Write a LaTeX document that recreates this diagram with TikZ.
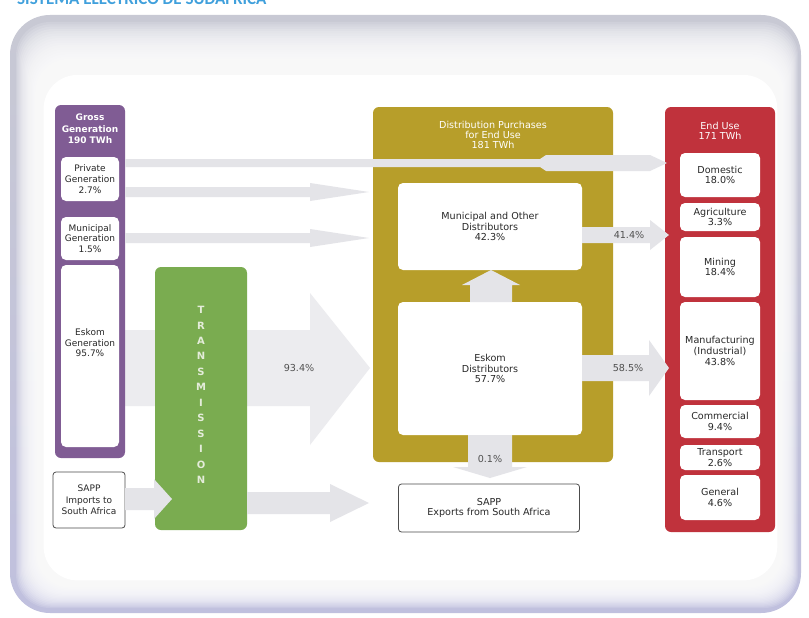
\documentclass[tikz,border=0pt]{standalone}
\usepackage{fontspec}
\setmainfont{DejaVu Sans}
\newfontfamily\titlefont{Carlito}
\definecolor{titleblue}{RGB}{64,160,220}
\definecolor{frametop}{RGB}{200,201,212}
\definecolor{framebot}{RGB}{192,192,222}
\definecolor{purplecol}{RGB}{128,92,148}
\definecolor{greencol}{RGB}{122,172,80}
\definecolor{yellowcol}{RGB}{183,158,42}
\definecolor{redcol}{RGB}{192,50,60}
\definecolor{arrowgray}{RGB}{228,228,232}
\definecolor{biggray}{RGB}{236,236,239}
\definecolor{txtgray}{RGB}{40,40,40}
\definecolor{lblgray}{RGB}{80,80,80}
\definecolor{translet}{RGB}{228,236,218}
\newcommand\boxfont{\fontsize{9.6}{10.8}\selectfont}
\newcommand\hdrfont{\fontsize{9.6}{10.2}\selectfont}
\begin{document}
\begin{tikzpicture}[x=1pt,y=-1pt,
  col/.style={rounded corners=6, inner sep=0pt},
  wbox/.style={fill=white, rounded corners=5, inner sep=0pt, align=center, font=\boxfont, text=txtgray},
  sbox/.style={fill=white, draw=black!70, line width=0.8pt, rounded corners=3, inner sep=0pt, align=center, font=\boxfont, text=txtgray},
  txt/.style={align=center, font=\boxfont, text=txtgray},
  hdr/.style={align=center, font=\hdrfont, text=white},
  lbl/.style={font=\boxfont, text=lblgray}]
\useasboundingbox (0,0) rectangle (809,618);
\fill[white] (0,0) rectangle (809,618);
% title (cut off at top, as in the source)
\begin{scope}
\clip (0,0) rectangle (809,618);
\node[anchor=base west, inner sep=0pt, font=\titlefont\bfseries\fontsize{17}{17}\selectfont, text=titleblue] (title) at (17,4.5) {SISTEMA ELÉCTRICO DE SUDÁFRICA};
\end{scope}
% frame
\shade[top color=frametop, bottom color=framebot, rounded corners=40] (10,15) rectangle (801,613);
\foreach \i in {0,...,23}{
  \fill[white, opacity=0.14, rounded corners=34] (16+1.2*\i,22+2.3*\i) rectangle (798-0.9*\i,608-1.2*\i);
}
\fill[white, rounded corners=34] (43.6,74.9) rectangle (777.3,580.4);

% big arrow behind transmission
\fill[biggray] (125,330) -- (310,330) -- (310,293) -- (370,368) -- (310,445) -- (310,406) -- (125,406) -- cycle;

% columns
\node[col, fill=purplecol, minimum width=70, minimum height=353] (grossgen) at (90,281.5) {};
\node[col, fill=greencol, minimum width=92, minimum height=263] (transm) at (201,398.5) {};
\node[col, fill=yellowcol, minimum width=240, minimum height=355] (distrib) at (493,284.5) {};
\node[col, fill=redcol, minimum width=110, minimum height=425] (enduse) at (720,319.5) {};

% headers
\node[hdr, font=\fontsize{9}{11.5}\selectfont\bfseries] (grosshdr) at (90,129) {Gross\\Generation\\190 TWh};
\node[hdr] (disthdr) at (493,135) {Distribution Purchases\\for End Use\\181 TWh};
\node[hdr] (endhdr) at (720,131) {End Use\\171 TWh};

% generation boxes
\node[wbox, font=\fontsize{9}{11.3}\selectfont, minimum width=58, minimum height=44] (privgen) at (90,179) {Private\\Generation\\2.7\%};
\node[wbox, font=\fontsize{9}{10.6}\selectfont, minimum width=58, minimum height=43] (munigen) at (90,238.5) {Municipal\\Generation\\1.5\%};
\node[wbox, minimum width=58, minimum height=182] (eskomgen) at (90,356) {};
\node[txt, font=\fontsize{9}{10.6}\selectfont] (eskomgentxt) at (90,343) {Eskom\\Generation\\95.7\%};
\node[sbox, font=\fontsize{9}{11.3}\selectfont, minimum width=72, minimum height=56] (sappimp) at (89,500) {SAPP\\Imports to\\South Africa};

% transmission letters
\foreach \c [count=\i from 0] in {T,R,A,N,S,M,I,S,S,I,O,N}{
  \node[font=\fontsize{10}{10}\selectfont\bfseries, text=translet] (tr\i) at (201,310+15.45*\i) {\c};
}

% distribution boxes
\node[wbox, minimum width=184, minimum height=87] (munidist) at (490,226.5) {Municipal and Other\\Distributors\\42.3\%};
\node[wbox, minimum width=184, minimum height=133] (eskomdist) at (490,368.5) {Eskom\\Distributors\\57.7\%};
\node[sbox, minimum width=181, minimum height=48] (sappexp) at (489,508) {SAPP\\Exports from South Africa};

% end use boxes
\node[wbox, minimum width=80, minimum height=44] (domestic) at (720,175) {Domestic\\18.0\%};
\node[wbox, minimum width=80, minimum height=28] (agri) at (720,217) {Agriculture\\3.3\%};
\node[wbox, minimum width=80, minimum height=60] (mining) at (720,267) {Mining\\18.4\%};
\node[wbox, minimum width=80, minimum height=98] (manuf) at (720,351) {Manufacturing\\(Industrial)\\43.8\%};
\node[wbox, minimum width=80, minimum height=33] (commerc) at (720,421.5) {Commercial\\9.4\%};
\node[wbox, minimum width=80, minimum height=25] (transp) at (720,457.5) {Transport\\2.6\%};
\node[wbox, minimum width=80, minimum height=45] (general) at (720,497.5) {General\\4.6\%};

% flow arrows
\fill[arrowgray] (125,159) -- (540,159) -- (546,155) -- (650,155) -- (667,163) -- (650,171) -- (546,171) -- (540,167) -- (125,167) -- cycle;
\fill[arrowgray] (125,187) -- (310,187) -- (310,183) -- (369,192) -- (310,201) -- (310,197) -- (125,197) -- cycle;
\fill[arrowgray] (125,233) -- (310,233) -- (310,229) -- (369,238) -- (310,247) -- (310,243) -- (125,243) -- cycle;
\fill[arrowgray] (125,488) -- (154,488) -- (154,479) -- (172,499) -- (154,519) -- (154,510) -- (125,510) -- cycle;
\fill[arrowgray] (247,492) -- (330,492) -- (330,484) -- (369,503) -- (330,522) -- (330,514) -- (247,514) -- cycle;
\fill[arrowgray] (582,227) -- (650,227) -- (650,220) -- (669,235) -- (650,250) -- (650,243) -- (582,243) -- cycle;
\fill[arrowgray] (582,355) -- (649,355) -- (649,340) -- (669,368) -- (649,396) -- (649,381) -- (582,381) -- cycle;
% up arrow (Eskom -> Municipal)
\fill[arrowgray] (470,302) -- (470,285) -- (462,285) -- (491,270) -- (520,285) -- (512,285) -- (512,302) -- cycle;
% down arrow (Eskom -> SAPP exports)
\fill[arrowgray] (468,435) -- (468,467) -- (453,467) -- (490,478) -- (527,467) -- (512,467) -- (512,435) -- cycle;

% labels
\node[lbl] (l934) at (299,368) {93.4\%};
\node[lbl] (l414) at (629,235) {41.4\%};
\node[lbl] (l585) at (628,368) {58.5\%};
\node[lbl] (l01) at (490,459) {0.1\%};
\end{tikzpicture}
\end{document}
